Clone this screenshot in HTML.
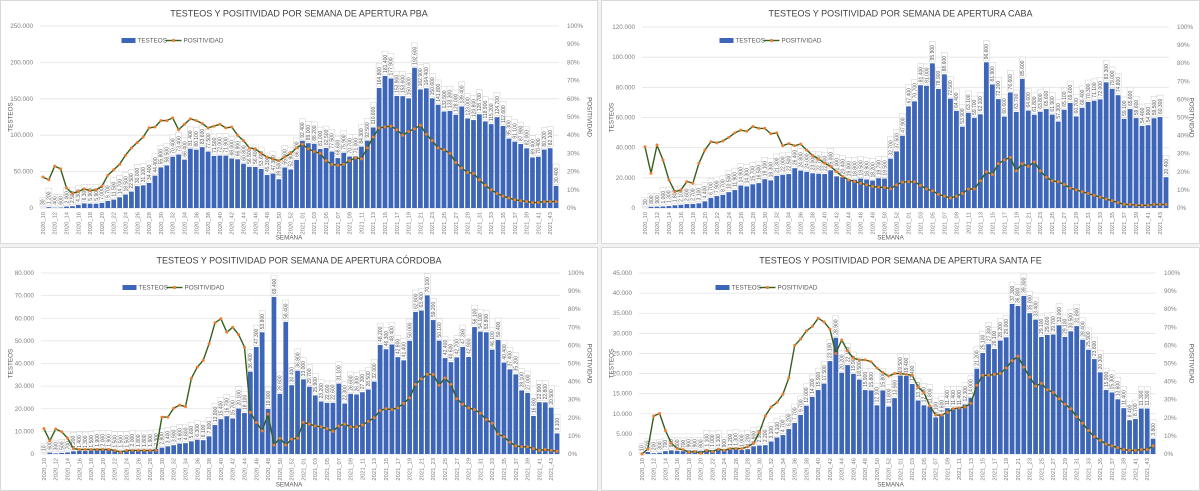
<!DOCTYPE html>
<html><head><meta charset="utf-8">
<style>
html,body{margin:0;padding:0;background:#f2f2f2;}
svg{display:block;font-family:"Liberation Sans",sans-serif;}
</style></head>
<body>
<svg id="root" width="1200" height="491" viewBox="0 0 1200 491"></svg>
<script>
// ---- data (thousands of tests, positivity %) ----
const weeks2020 = [10,11,12,13,14,15,16,17,18,19,20,21,22,23,24,25,26,27,28,29,30,31,32,33,34,35,36,37,38,39,40,41,42,43,44,45,46,47,48,49,50,51,52,53];
const weeks2021 = [1,2,3,4,5,6,7,8,9,10,11,12,13,14,15,16,17,18,19,20,21,22,23,24,25,26,27,28,29,30,31,32,33,34,35,36,37,38,39,40,41,42,43,44];

const pbaTests = [0.03,1.2,0.4,0.6,2.0,2.5,4.3,6.3,5.9,5.9,7.0,9.7,11.5,14.7,18.5,22.5,30,31.1,34.4,44.4,55.8,58.5,70.4,73.4,66.4,81.4,80.1,83.6,77.5,71.5,72,71.9,68,66.9,60.8,56.5,56.4,53.6,45.3,47.3,39.5,55.6,52.9,66.1,
 92.4,89,88.2,81,82.5,77.5,68.6,75.9,70.7,71,84.3,92.5,110.6,164.8,181.4,177.9,153.9,153.6,150.6,192.6,162.9,164.4,150.6,141.8,132.5,133.3,128,139.4,123,120.8,128.7,118.9,115.2,124.7,112.6,95.3,91.1,87.9,82,69.4,70.4,80.2,82.1,30.4];
const pbaPos = [17,15.5,23,21.5,11,8,9,10.5,9.5,10,12,18,21,24,29,33,36,39,44,44.5,48,48,49.5,43,46,49,48,46.5,44,45,46,44,44.5,40,37,33,32.5,30,28,27,26,28,30,33,
 35,32.5,31,30,26,24,23.5,24,26,27.5,27,33,39,44,44.5,45,43,40,42,43.5,45.5,40.5,37,33,32,30,25,22,19.5,19,15.5,12.5,10,8,6.5,5.5,4.5,4,3.5,3,3,3.5,3.5,3.5];

const cabaTests = [0.03,0.8,0.9,1.0,1.3,1.8,2.1,2.6,2.7,3.1,4.4,6.7,7.9,8.7,10.5,11.9,14.9,14.3,15.7,16.5,19.1,18.3,21.3,22,22.5,26.4,24.8,24,23,22.7,22.5,25,21,20.4,19,18.8,19.5,18.9,18.2,19.7,19.5,32.7,37.5,47.9,
 67.4,70.7,81.4,81,95.9,78.9,88.6,72.5,64.4,53.9,63.1,59.7,62.1,96.6,81.9,72.2,60.6,76.6,63.7,85.6,64.6,61.8,63.8,65.6,61.9,57.3,65.1,69.6,60.7,66.4,70.3,71.1,72,83.3,79,74.8,59.1,65.6,59.6,54.4,54.9,59.5,60.3,20.4];
const cabaPos = [33.8,19.2,34.7,26.5,15.5,9,10,14.6,13.7,24.7,32,36.6,36,37,39,41.5,43,42.4,45,44,44,41,41.5,34.4,35.6,34.4,35.3,32,29,27,24.7,23,20,17.4,15.5,14.6,13.7,12.8,11.9,11.5,11.3,10.6,12.8,14.3,
 14.5,14.5,12.5,10.5,9.5,7.5,6.5,5.5,6.5,8,10.5,10.5,15,20,18.5,24.5,26.5,28,20.5,24.5,23,25.5,20.5,17,15,14.5,13,11,10,9,8,7,6,5,4,3,2,2,1.5,1.5,1.5,2,2,2];

const cbaTests = [0.01,0.6,0.3,0.5,0.7,1.2,1.4,1.3,1.5,1.9,2.0,1.9,1.5,1.5,1.5,2.0,1.8,1.8,1.9,2.3,2.8,3.4,3.9,4.6,4.8,5.6,6.3,6.1,7.8,12.8,15.4,16.7,15.7,20.1,18.1,36.4,47.3,53.8,19.9,69.4,26.6,58.4,30.4,36.8,
 33,29.7,25.9,23.2,22.6,22.6,31.1,22.3,26.6,26.3,27.3,28.5,32,48.2,46.3,48.4,42.8,41.4,50,62.8,63.4,70.1,59.2,50.1,42.4,40.6,42.7,47.3,42.9,56.1,54.1,53.8,46.1,50.4,40.4,37.4,35.2,28.1,27,16.8,22.9,22.8,20.5,9.1];
const cbaPos = [14,7.3,13.8,12.3,8.8,3,2.5,2.5,2.5,2.5,2.5,2.5,2,1,2,2,2,2,2,2,20.4,20.4,25.3,27,26.2,41.8,48,51.7,61,72.5,74.7,67.3,70,66,59,23,17.4,12.8,22,5,8.6,5,8.2,8.8,
 17.5,16.5,15.5,15,14,12.5,15.5,16.5,15,15,16,18,20,24,25,24.5,25.5,28,31,38.5,41.5,44,44,38,42,38.5,30.5,27.5,25.5,24.5,22.5,19,17,11,9.5,6.5,4.5,4,4,3,2,2.5,2,1.5];

const sfTests = [0.01,0.5,0.2,0.3,0.7,0.9,0.8,0.7,0.9,0.9,0.8,1.1,1.0,1.1,0.9,1.2,1.3,1.0,1.2,1.9,2.1,2.2,3.1,4.1,4.7,6.2,7.7,9.7,12.0,14.2,15.9,17.5,23.1,28.9,20.2,22.1,19.9,18.5,15.9,15.8,12.1,15.8,11.8,13.9,
 19.5,19.4,17.4,13.3,12.1,11.8,9.1,9.6,11.4,11.4,11.4,12.3,14.0,21.2,25.1,27.3,26.1,28.2,29.0,37.3,36.8,39.3,35.0,33.4,29.1,29.6,29.7,32.0,29.1,30.5,31.8,28.4,25.9,23.6,20.3,15.9,15.3,13.6,11.4,8.4,8.7,11.3,11.3,3.8];
const sfPos = [0,2.7,21,22.4,13,6,3,2.4,1,1.3,0.5,2,1.3,2.7,2,3,3,3,4,6,12,21,26,28.5,33,42,60,63.5,68,70.5,75,73,69,55.5,63,57,53,52,52,51,47.5,45,43,44.5,
 44.5,44,43.5,37,34,26.5,21.5,21.5,23,25,25.5,26,28,38,43.5,43.5,44,44.5,47.5,51.5,54,48,42.5,37.5,39,35.5,34,30.5,27.5,25,20.5,17,13,9.5,7.5,5.5,4.5,3.5,2.5,2,2,2.5,2.5,4.5];

const categories = [];
for (const w of weeks2020) categories.push('2020_' + String(w).padStart(2,'0'));
for (const w of weeks2021) categories.push('2021_' + String(w).padStart(2,'0'));

const NS='http://www.w3.org/2000/svg';
const root=document.getElementById('root');
function mk(tag, attrs, parent){const e=document.createElementNS(NS,tag);for(const k in attrs)e.setAttribute(k,attrs[k]);(parent||root).appendChild(e);return e;}
function fmt(n){n=Math.round(n);const s=String(n);return s.replace(/\B(?=(\d{3})+(?!\d))/g,'.');}

function chart(cfg){
  const g=mk('g',{});
  
  
  const bg=mk('rect',{x:cfg.px,y:cfg.py,width:cfg.pw,height:cfg.ph,fill:'#ffffff',stroke:'#d9d9d9','stroke-width':1},g);
  
  
  const n=categories.length, band=(cfg.R-cfg.L)/n;
  const xC=i=>cfg.L+band*(i+0.5);
  const yL=v=>cfg.B-(v*1000/cfg.max)*(cfg.B-cfg.T);
  const yR=p=>cfg.B-(p/100)*(cfg.B-cfg.T);
  for(let v=0;v<=cfg.max;v+=cfg.step){
    const y=cfg.B-(v/cfg.max)*(cfg.B-cfg.T);
    if(v>0){const gl=mk('line',{x1:cfg.L,x2:cfg.R,y1:y,y2:y,stroke:'#e3e3e3','stroke-width':0.8},g);
      
      }
    const t=mk('text',{x:cfg.L-7,y:y+2,'font-size':6.3,fill:'#7f7f7f','text-anchor':'end'},g);
    t.textContent=fmt(v);
    
    
  }
  for(let p=0;p<=100;p+=10){
    const t=mk('text',{x:cfg.R+8,y:yR(p)+2,'font-size':6.3,fill:'#7f7f7f'},g);
    t.textContent=p+'%';
    
    
  }
  mk('line',{x1:cfg.L,x2:cfg.R,y1:cfg.B,y2:cfg.B,stroke:'#d9d9d9','stroke-width':0.8},g);
  cfg.tests.forEach((v,i)=>{
    const y=yL(v);
    const r=mk('rect',{x:xC(i)-band*0.4,y:y,width:band*0.8,height:cfg.B-y,fill:'#3d66b8'},g);
    
    
  });
  cfg.tests.forEach((v,i)=>{
    const s=fmt(v*1000), h=s.length*2.9+3, x=xC(i), y=yL(v)-1.5;
    const lb=mk('rect',{x:x-3,y:y-h,width:6,height:h,fill:'#ffffff',stroke:'#cfcfcf','stroke-width':0.5},g);
    
    
    const t=mk('text',{x:0,y:0,'font-size':5,fill:'#595959',transform:`translate(${x+1.8},${y-1.5}) rotate(-90)`},g);
    t.textContent=s;
    
    
  });
  const pts=cfg.pos.map((p,i)=>xC(i).toFixed(1)+','+yR(p).toFixed(1)).join(' ');
  const pl=mk('polyline',{points:pts,fill:'none',stroke:'#375f1b','stroke-width':1.4},g);
  
  
  cfg.pos.forEach((p,i)=>{
    const c=mk('circle',{cx:xC(i),cy:yR(p),r:1.5,fill:'#ed7d31'},g);
    
    
  });
  categories.forEach((c,i)=>{
    if(i%2) return;
    const x=xC(i);
    const t=mk('text',{x:0,y:0,'font-size':5.8,fill:'#7f7f7f','text-anchor':'end',transform:`translate(${x+2},${cfg.B+4}) rotate(-90)`},g);
    t.textContent=c;
    
    
  });
  const tt=mk('text',{x:cfg.px+cfg.pw/2,y:cfg.py+16,'font-size':9,fill:'#404040','text-anchor':'middle'},g);
  tt.textContent=cfg.title;
  
  
  const xt=mk('text',{x:cfg.px+cfg.pw/2-10,y:cfg.py+cfg.ph-4,'font-size':6.3,fill:'#595959','text-anchor':'middle'},g);
  xt.textContent='SEMANA';
  
  
  const yt=mk('text',{x:0,y:0,'font-size':6.3,fill:'#595959','text-anchor':'middle',transform:`translate(${cfg.px+12},${(cfg.T+cfg.B)/2}) rotate(-90)`},g);
  yt.textContent='TESTEOS';
  
  
  const y2=mk('text',{x:0,y:0,'font-size':6.3,fill:'#595959','text-anchor':'middle',transform:`translate(${cfg.px+cfg.pw-10},${(cfg.T+cfg.B)/2}) rotate(90)`},g);
  y2.textContent='POSITIVIDAD';
  
  
  const lx=cfg.px+cfg.legX, ly=cfg.py+40;
  const lg=mk('g',{},g);
  
  
  const e1=mk('rect',{x:lx,y:ly-2.5,width:14,height:5,fill:'#3d66b8'},lg);
  
  
  const l1=mk('text',{x:lx+16,y:ly+2,'font-size':6.3,fill:'#595959'},lg); l1.textContent='TESTEOS';
  mk('line',{x1:lx+44,x2:lx+60,y1:ly,y2:ly,stroke:'#375f1b','stroke-width':1.4},lg);
  const e2=mk('circle',{cx:lx+52,cy:ly,r:1.6,fill:'#ed7d31'},lg);
  
  
  const l2=mk('text',{x:lx+62,y:ly+2,'font-size':6.3,fill:'#595959'},lg); l2.textContent='POSITIVIDAD';
}

chart({name:'pba',title:'TESTEOS Y POSITIVIDAD POR SEMANA DE APERTURA PBA',px:0.5,py:0.5,pw:597,ph:243,L:40,R:559,T:26,B:208,max:250000,step:50000,tests:pbaTests,pos:pbaPos,legX:121});
chart({name:'caba',title:'TESTEOS Y POSITIVIDAD POR SEMANA DE APERTURA CABA',px:601.5,py:0.5,pw:598,ph:243,L:642,R:1169,T:27,B:208,max:120000,step:20000,tests:cabaTests,pos:cabaPos,legX:118});
chart({name:'cordoba',title:'TESTEOS Y POSITIVIDAD POR SEMANA DE APERTURA CÓRDOBA',px:0.5,py:247.5,pw:597,ph:243,L:41,R:560,T:273,B:454,max:80000,step:10000,tests:cbaTests,pos:cbaPos,legX:122});
chart({name:'santa-fe',title:'TESTEOS Y POSITIVIDAD POR SEMANA DE APERTURA SANTA FE',px:601.5,py:247.5,pw:598,ph:243,L:639,R:1156,T:273,B:454,max:45000,step:5000,tests:sfTests,pos:sfPos,legX:114});
</script>
</body></html>
